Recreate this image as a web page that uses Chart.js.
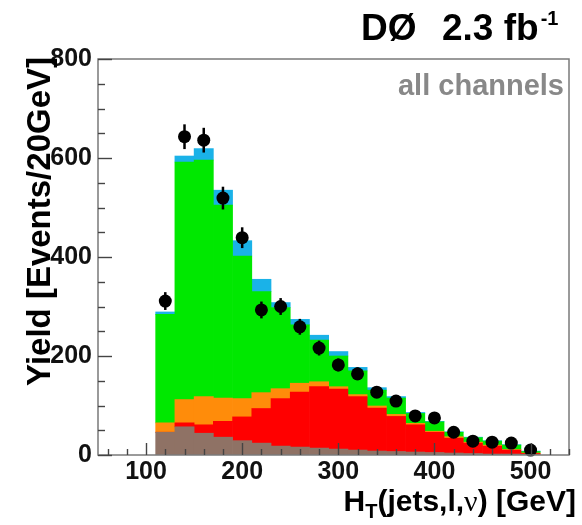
<!DOCTYPE html>
<html><head><meta charset="utf-8">
<script src="https://cdn.jsdelivr.net/npm/chart.js@4/dist/chart.umd.min.js"></script>
<style>html,body{margin:0;padding:0;background:#fff;}</style>
</head><body>
<canvas id="c" width="582" height="525"></canvas>
<script>
// ---- data (20 GeV bins, 110-510 GeV) ----
const binCenters = [120,140,160,180,200,220,240,260,280,300,320,340,360,380,400,420,440,460,480,500];
const multijet = [46,57,44,36,29,24,18,16,14,12,10,8,7,6,5,4,3,2,2,1];          // brown
const ttbar    = [0,8,17,32,48,70,96,111,124,121,108,87,71,55,41,30,21,16,8,2];   // red
const zjets    = [19,47,57,47,37,32,20,18,10,5,4,4,4,3,2,3,2,2,1,1];              // orange
const wjets    = [219,480,478,390,288,204,164,118,84,62,48,32,33,20,19,9,9,8,9,3]; // green
const signal   = [5,12,23,30,31,25,10,11,10,9,7,5,3,2,1,1,1,1,1,1];              // blue
const dataYield = [311,643,636,519,439,293,300,259,216,182,164,127,109,79,75,46,28,26,24,10];
const dataErr   = [18,25,25,23,21,17,17,16,15,13,13,11,10,9,9,7,5,5,5,3];
const xTickLabels = [100,200,300,400,500];
const yTickLabels = [0,200,400,600,800];

const FONT = "'Liberation Sans', Arial, Helvetica, sans-serif";
const pts = arr => binCenters.map((c,i) => ({x:c, y:arr[i]}));
const barDS = (label, arr, color) => ({
  type:'bar', label, data: pts(arr), backgroundColor: color, borderWidth: 0,
  stack:'mc', barPercentage:1, categoryPercentage:1, order:1
});

const decor = {
  id:'decor',
  afterDatasetsDraw(chart){
    const {ctx, chartArea:a, scales:{x,y}} = chart;
    ctx.save();
    ctx.strokeStyle = '#000'; ctx.lineWidth = 2.5;
    binCenters.forEach((c,i)=>{
      const px = x.getPixelForValue(c);
      ctx.beginPath();
      ctx.moveTo(px, y.getPixelForValue(dataYield[i]-dataErr[i]));
      ctx.lineTo(px, y.getPixelForValue(dataYield[i]+dataErr[i]));
      ctx.stroke();
    });
    ctx.strokeStyle = '#7a7a7a'; ctx.lineWidth = 1.5;
    ctx.strokeRect(a.left, a.top, a.right-a.left, a.bottom-a.top);
    ctx.strokeStyle = '#444'; ctx.lineWidth = 1.4;
    for (let v = 60; v <= 540; v += 20){
      const len = v % 100 === 0 ? 12 : 6;
      const px = Math.round(x.getPixelForValue(v)) + 0.5;
      ctx.beginPath(); ctx.moveTo(px, a.bottom); ctx.lineTo(px, a.bottom-len); ctx.stroke();
    }
    for (let v = 0; v <= 800; v += 50){
      const len = v % 200 === 0 ? 14 : 7;
      const py = Math.round(y.getPixelForValue(v)) + 0.5;
      ctx.beginPath(); ctx.moveTo(a.left, py); ctx.lineTo(a.left+len, py); ctx.stroke();
    }
    ctx.restore();
  },
  afterDraw(chart){
    const {ctx} = chart;
    ctx.save();
    ctx.fillStyle = '#000';
    ctx.textBaseline = 'alphabetic';
    // top-right title
    ctx.font = "bold 37px " + FONT;
    ctx.textAlign = 'left';
    ctx.fillText('DØ', 361, 40);
    ctx.fillText('2.3 fb', 442, 40);
    const wfb = ctx.measureText('2.3 fb').width;
    ctx.font = "bold 20px " + FONT;
    ctx.fillText('-1', 442 + wfb + 2, 25);
    // all channels
    ctx.fillStyle = '#888';
    ctx.font = "bold 29px " + FONT;
    ctx.textAlign = 'right';
    ctx.fillText('all channels', 564, 95);
    // y title
    ctx.fillStyle = '#000';
    ctx.save();
    ctx.translate(50, 57);
    ctx.rotate(-Math.PI/2);
    ctx.font = "bold 33px " + FONT;
    ctx.textAlign = 'right';
    ctx.fillText('Yield [Events/20GeV]', 0, 0);
    ctx.restore();
    // x title
    const parts = [
      {t:'H', f:"bold 30px " + FONT, dy:0},
      {t:'T', f:"bold 20px " + FONT, dy:7},
      {t:'(jets,l,', f:"bold 30px " + FONT, dy:0},
      {t:'ν', f:"30px 'Liberation Serif', 'Times New Roman', serif", dy:0},
      {t:') [GeV]', f:"bold 30px " + FONT, dy:0}
    ];
    let total = 0;
    parts.forEach(p=>{ ctx.font = p.f; p.w = ctx.measureText(p.t).width; total += p.w; });
    let xx = 576 - total;
    ctx.textAlign = 'left';
    parts.forEach(p=>{ ctx.font = p.f; ctx.fillText(p.t, xx, 511 + p.dy); xx += p.w; });
    ctx.restore();
  }
};

new Chart(document.getElementById('c'), {
  type:'bar',
  data:{
    datasets:[
      barDS('Multijets', multijet, '#8f7265'),
      barDS('ttbar', ttbar, '#ff0000'),
      barDS('Z+jets, dibosons', zjets, '#ff8c0a'),
      barDS('W+jets', wjets, '#00e800'),
      barDS('tb+tqb', signal, '#1ab2e8'),
      {type:'scatter', label:'Data', data: pts(dataYield), stack:'data', order:0,
       pointRadius:6.5, pointBackgroundColor:'#000', pointBorderWidth:0, clip:false}
    ]
  },
  options:{
    responsive:false, animation:false, devicePixelRatio:1,
    layout:{padding:{left:0, right:13, top:59, bottom:0}},
    plugins:{legend:{display:false}, tooltip:{enabled:false}},
    scales:{
      x:{type:'linear', min:50, max:540, offset:false,
         grid:{display:false, drawTicks:false, offset:false}, border:{display:false},
         afterBuildTicks: s => { s.ticks = xTickLabels.map(v=>({value:v})); },
         afterFit: s => { s.height = 70; },
         ticks:{autoSkip:false, maxRotation:0, padding:5, color:'#111',
                font:{family:FONT, size:25, weight:'bold', lineHeight:1}}},
      y:{type:'linear', stacked:true, min:0, max:800,
         grid:{display:false, drawTicks:false}, border:{display:false},
         afterBuildTicks: s => { s.ticks = yTickLabels.map(v=>({value:v})); },
         afterFit: s => { s.width = 98; },
         ticks:{padding:6, color:'#111',
                font:{family:FONT, size:25, weight:'bold', lineHeight:1}}}
    }
  },
  plugins:[decor]
});
</script>
</body></html>
